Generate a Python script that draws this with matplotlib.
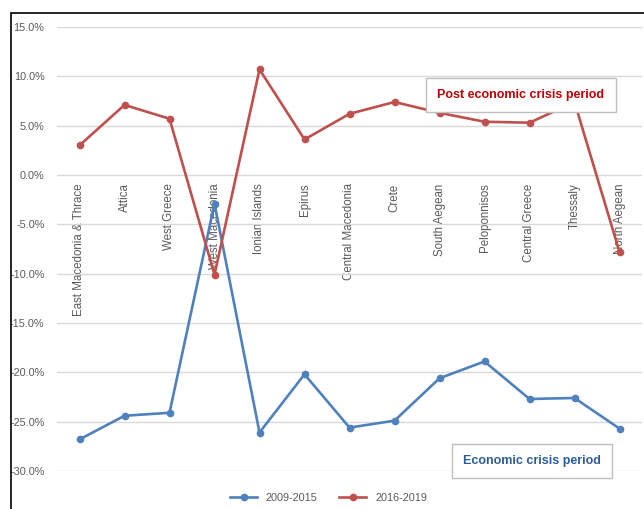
import matplotlib.pyplot as plt
from matplotlib.patches import Rectangle
from matplotlib.ticker import FuncFormatter

# regions and growth values (%)
regions = ['East Macedonia & Thrace', 'Attica', 'West Greece', 'West Macedonia',
           'Ionian Islands', 'Epirus', 'Central Macedonia', 'Crete', 'South Aegean',
           'Peloponnisos', 'Central Greece', 'Thessaly', 'North Aegean']
crisis = [-26.8, -24.4, -24.1, -2.9, -26.1, -20.2, -25.6, -24.9, -20.6, -18.9, -22.7, -22.6, -25.7]
post_crisis = [3.0, 7.1, 5.7, -10.1, 10.7, 3.6, 6.2, 7.4, 6.3, 5.4, 5.3, 7.4, -7.8]
yticks = [15, 10, 5, 0, -5, -10, -15, -20, -25, -30]

blue = '#4F81BD'
red = '#C0504D'
grey = '#595959'
plt.rcParams['font.family'] = ['Liberation Sans', 'DejaVu Sans']

fig = plt.figure(figsize=(6.44, 5.09), dpi=100)
ax = fig.add_axes([57/644, 1 - 471/509, 585/644, 444/509])

x = range(len(regions))
ax.plot(x, crisis, color=blue, lw=1.9, marker='o', ms=4.5, label='2009-2015', zorder=3)
ax.plot(x, post_crisis, color=red, lw=1.9, marker='o', ms=4.5, label='2016-2019', zorder=3)

# category axis sits on the 0% line
ax.spines['bottom'].set_position(('data', 0))
for s in ['top', 'right', 'left', 'bottom']:
    ax.spines[s].set_visible(False)

ax.set_xlim(-0.5, len(regions) - 0.5)
ax.set_ylim(-30, 15)
ax.set_yticks(yticks)
ax.yaxis.set_major_formatter(FuncFormatter(lambda v, p: '%.1f%%' % v))
ax.grid(axis='y', color='#D9D9D9', lw=1)
ax.set_axisbelow(True)

ax.set_xticks(list(x))
ax.set_xticklabels(regions)
ax.tick_params(axis='both', length=0, labelcolor=grey)
ax.tick_params(axis='x', pad=6, labelrotation=90, labelsize=8.3)
ax.tick_params(axis='y', pad=9, labelsize=7.8)

ax.text(0.793, 0.847, 'Post economic crisis period', transform=ax.transAxes,
        ha='center', va='center', fontsize=9, fontweight='bold', color='#C00000',
        bbox=dict(boxstyle='square,pad=0.9', fc='white', ec='#BFBFBF', lw=1), zorder=5)
ax.text(0.812, 0.022, 'Economic crisis period', transform=ax.transAxes,
        ha='center', va='center', fontsize=9, fontweight='bold', color='#2E5C9A',
        bbox=dict(boxstyle='square,pad=0.9', fc='white', ec='#BFBFBF', lw=1), zorder=5,
        clip_on=False)

fig.legend(loc='center', bbox_to_anchor=(0.51, 0.022), ncol=2, frameon=False,
           fontsize=7.8, labelcolor=grey, handlelength=2.5, columnspacing=2.0)

# black frame along top and left
fig.patches.append(Rectangle((11/644, -0.1), 1.2, 1.1 - 13/509, transform=fig.transFigure,
                             fill=False, ec='black', lw=1.2))

fig.savefig('out.png', dpi=100)
